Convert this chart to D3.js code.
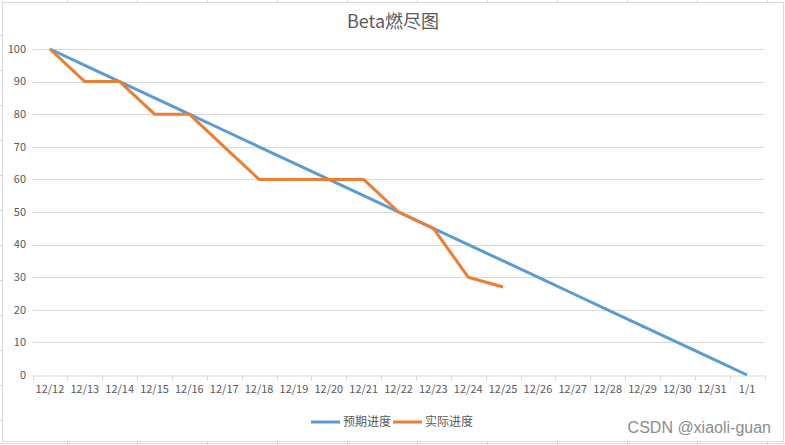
<!DOCTYPE html>
<html><head><meta charset="utf-8">
<script src="https://cdn.jsdelivr.net/npm/d3@7"></script>
<style>body{margin:0;background:#fff}svg{display:block}</style>
</head><body>
<script>
const categories = ["12/12","12/13","12/14","12/15","12/16","12/17","12/18","12/19","12/20","12/21","12/22","12/23","12/24","12/25","12/26","12/27","12/28","12/29","12/30","12/31","1/1"];
const planned = [100,95,90,85,80,75,70,65,60,55,50,45,40,35,30,25,20,15,10,5,0];
const actual = [100,90,90,80,80,70,60,60,60,60,50,45,30,27];
const yTicks = [0,10,20,30,40,50,60,70,80,90,100];
const seriesNames = ["预期进度","实际进度"];
const colors = ["#5b9bd5","#ed7d31"];

(function(){
const W=785,H=445;
const svg=d3.select("body").append("svg").attr("width",W).attr("height",H);
const font="'Noto Sans CJK SC','Liberation Sans',sans-serif";

// spreadsheet background hints
const bg=svg.append("g").attr("stroke","#d4d8e4").attr("stroke-width",1);
[67,137,207,277,347,417,487,557,627,697,767].forEach(x=>{
  bg.append("line").attr("x1",x+0.5).attr("x2",x+0.5).attr("y1",0).attr("y2",2);
  bg.append("line").attr("x1",x+0.5).attr("x2",x+0.5).attr("y1",442).attr("y2",445);
});
[35,70,105,140,175,210,245,280,315,350,385,420].forEach(yy=>{
  bg.append("line").attr("x1",0).attr("x2",2).attr("y1",yy+0.5).attr("y2",yy+0.5);
});
svg.append("line").attr("x1",0).attr("x2",W).attr("y1",443.5).attr("y2",443.5).attr("stroke","#d4d8e4");
svg.append("rect").attr("x",2.5).attr("y",2.5).attr("width",781).attr("height",439)
  .attr("fill","#fff").attr("stroke","#d9d9d9");

const pl=32.5,pr=764.5,pt=49,pb=375;
const x=d3.scaleBand().domain(categories).range([pl,pr]);
const y=d3.scaleLinear().domain([0,100]).range([pb,pt]);

// gridlines
svg.append("g").selectAll("line").data(yTicks.filter(d=>d>0)).join("line")
  .attr("x1",pl).attr("x2",pr)
  .attr("y1",d=>Math.round(y(d))+0.5).attr("y2",d=>Math.round(y(d))+0.5)
  .attr("stroke","#d9d9d9").attr("stroke-width",1);

// y axis labels
svg.append("g").selectAll("text").data(yTicks).join("text")
  .attr("x",26).attr("y",d=>y(d)).attr("dy","0.35em").attr("text-anchor","end")
  .attr("font-family",font).attr("font-size",11).attr("fill","#595959").text(d=>d);

// x axis
const xAxis=svg.append("g").attr("transform",`translate(0,${Math.round(pb)+0.5})`)
  .call(d3.axisBottom(x).tickSize(0).tickPadding(10));
xAxis.select(".domain").attr("stroke","#d9d9d9");
xAxis.selectAll("text").attr("font-family",font).attr("font-size",11).attr("fill","#595959");
const bounds=categories.map(c=>x(c)).concat([x(categories[categories.length-1])+x.bandwidth()]);
xAxis.selectAll(".bt").data(bounds).join("line").attr("class","bt")
  .attr("x1",d=>Math.round(d)+0.5).attr("x2",d=>Math.round(d)+0.5).attr("y1",0).attr("y2",5)
  .attr("stroke","#d9d9d9");

// lines
const line=d3.line().x((d,i)=>x(categories[i])+x.bandwidth()/2).y(d=>y(d));
[planned,actual].forEach((s,k)=>{
  svg.append("path").datum(s).attr("d",line).attr("fill","none")
    .attr("stroke",colors[k]).attr("stroke-width",3).attr("stroke-linejoin","round");
});

// title
svg.append("text").attr("x",393).attr("y",28).attr("text-anchor","middle")
  .attr("font-family",font).attr("font-size",18).attr("fill","#595959").text("Beta燃尽图");

// legend
const lg=[{x0:311,tx:343},{x0:393,tx:425}];
seriesNames.forEach((n,k)=>{
  svg.append("line").attr("x1",lg[k].x0).attr("x2",lg[k].x0+29).attr("y1",422).attr("y2",422)
    .attr("stroke",colors[k]).attr("stroke-width",3);
  svg.append("text").attr("x",lg[k].tx).attr("y",422).attr("dy","0.35em")
    .attr("font-family",font).attr("font-size",12).attr("fill","#595959").text(n);
});

// watermark
svg.append("text").attr("x",771).attr("y",427).attr("dy","0.35em").attr("text-anchor","end")
  .attr("font-family","'Liberation Sans',sans-serif").attr("font-size",16).attr("fill","#8c8c8c")
  .text("CSDN @xiaoli-guan");
})();
</script>
</body></html>
